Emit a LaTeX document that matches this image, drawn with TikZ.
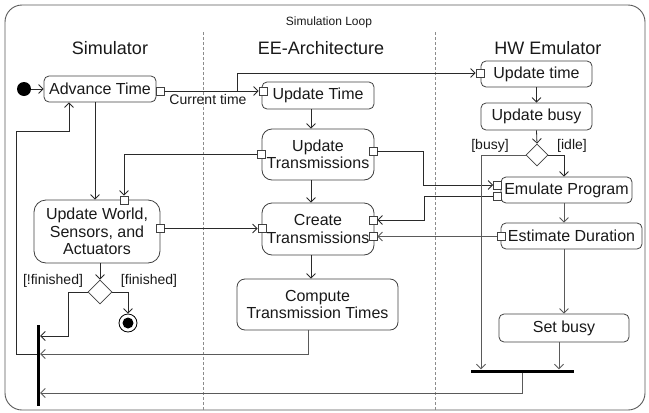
\documentclass[tikz,border=0pt]{standalone}
\usepackage{fontspec}
\setmainfont{Liberation Sans}
\usetikzlibrary{arrows.meta,shapes.geometric,calc}
\newcommand\fsz[2]{\fontsize{#1}{#2}\selectfont}
\definecolor{boxc}{HTML}{404040}
\definecolor{linec}{HTML}{2A2A2A}
\definecolor{grayl}{HTML}{5A5A5A}
\begin{document}
\begin{tikzpicture}[x=1pt,y=-1pt,
  act/.style={draw=boxc, line width=0.8pt, rounded corners=5pt, align=center, inner sep=1pt, text=black!90, font=\fsz{16}{17.5}},
  bigact/.style={act, rounded corners=10pt},
  pinbox/.style={draw=boxc, line width=0.8pt, fill=white, minimum size=8pt, inner sep=0pt},
  ln/.style={draw=linec, line width=0.8pt},
  lng/.style={draw=grayl, line width=0.8pt},
  arr/.style={ln, -{Straight Barb[length=4.5pt,width=9pt]}},
  arrg/.style={lng, -{Straight Barb[length=4.5pt,width=9pt]}},
  head/.style={font=\fsz{18}{20}, text=black!90},
  lbl/.style={font=\fsz{14}{16}, text=black!90, inner sep=0pt},
  dec/.style={diamond, aspect=1, draw=boxc, line width=0.8pt, fill=white, minimum width=24pt, minimum height=24pt, inner sep=0pt},
  barn/.style={fill=black, inner sep=0pt},
  lane/.style={draw=black!45, line width=0.8pt, dash pattern=on 3pt off 2pt}
]
\useasboundingbox (0,0) rectangle (649,413);
% frame and lanes
\draw[draw=black!65, line width=0.9pt, rounded corners=17pt] (5,5) rectangle (645,410);
\draw[lane] (203,32) -- (203,410);
\draw[lane] (435,32) -- (435,410);
\node[font=\fsz{12}{14}, text=black!90] (loop) at (329,22) {Simulation Loop};
\node[head] (hsim) at (110,48) {Simulator};
\node[head] (hee) at (321,48) {EE-Architecture};
\node[head] (hhw) at (548,48) {HW Emulator};

% Simulator lane
\node[circle, fill=black, minimum size=14pt, inner sep=0pt] (init) at (24,89) {};
\node[act, minimum width=112pt, minimum height=26pt] (adv) at (100,89) {Advance Time};
\node[bigact, rounded corners=12pt, minimum width=126pt, minimum height=63pt] (upW) at (97,231.5) {Update World,\\Sensors, and\\Actuators};
\node[dec] (dS) at (100,292) {};
\node[circle, draw=black, line width=0.8pt, minimum size=18pt, inner sep=0pt] (fin) at (128,323) {};
\node[circle, fill=black, minimum size=11pt, inner sep=0pt] (finIn) at (fin) {};
\node[barn, minimum width=3pt, minimum height=81pt] (fork) at (38.5,365.5) {};
\node[lbl] (lnf) at (53,281) {[!finished]};
\node[lbl] (lf) at (149,281) {[finished]};

% EE lane
\node[act, minimum width=112pt, minimum height=27pt] (eeUT) at (318,95.5) {Update Time};
\node[bigact, minimum width=112pt, minimum height=51pt] (eeUTr) at (318,154.5) {Update\\Transmissions};
\node[bigact, minimum width=112pt, minimum height=52pt] (eeCT) at (318,229) {Create\\Transmissions};
\node[bigact, rounded corners=8pt, minimum width=161pt, minimum height=51pt] (eeCTT) at (317.5,304.5) {Compute\\Transmission Times};

% HW lane
\node[act, minimum width=111pt, minimum height=26pt] (hwUT) at (536.5,74) {Update time};
\node[act, minimum width=111pt, minimum height=27pt] (hwUB) at (536.5,116.5) {Update busy};
\node[dec, minimum width=22pt, minimum height=22pt] (dH) at (537,155) {};
\node[lbl] (lbusy) at (490,146) {[busy]};
\node[lbl] (lidle) at (572,146) {[idle]};
\node[act, minimum width=131pt, minimum height=26pt] (hwEP) at (566.5,190) {Emulate Program};
\node[act, minimum width=141pt, minimum height=26pt] (hwED) at (571.5,236) {Estimate Duration};
\node[act, minimum width=130pt, minimum height=28pt] (hwSB) at (564,328) {Set busy};
\node[barn, minimum width=103pt, minimum height=3pt] (hwbar) at (522.5,371) {};

% pins
\node[pinbox] (pAdv) at (160,91) {};
\node[pinbox] (pEEUT) at (263,91) {};
\node[pinbox] (pUTrL) at (261,154) {};
\node[pinbox] (pUTrR) at (373,151.5) {};
\node[pinbox] (pCTL) at (262,228.5) {};
\node[pinbox] (pCTR1) at (373,220) {};
\node[pinbox] (pCTR2) at (373,236.5) {};
\node[pinbox] (pUWT) at (124,200) {};
\node[pinbox] (pUWR) at (160,228.5) {};
\node[pinbox] (pHWUT) at (480,73) {};
\node[pinbox] (pEP1) at (497.5,185) {};
\node[pinbox] (pEP2) at (497.5,196) {};
\node[pinbox] (pED) at (501,236.5) {};

% connectors: simulator
\draw[arr] (init) -- (adv);
\draw[arr] (pAdv.east) -- (pEEUT.west);
\node[lbl] (ctime) at (208,99) {Current time};
\coordinate (br) at ($(pEEUT.west)+(-21,0)$);
\draw[arr] (br) |- (pHWUT.west);
\coordinate (c1) at ($(adv.south)+(-5,0)$);
\draw[arr] (c1) -- (c1 |- upW.north);
\draw[arr] (pUTrL.west) -| (pUWT.north);
\draw[arr] (pUWR.east) -- (pCTL.west);
\draw[arr] (dS.north |- upW.south) -- (dS.north);
\draw[arr] (dS.west) -- ++(-19,0) |- ($(fork.east)+(0,-29.5)$);
\draw[arr] (dS.east) -| (fin.north);
\coordinate (k1) at ($(eeCTT.south)+(-9.5,0)$);
\draw[arrg] (k1) |- ($(fork.east)+(0,-11.5)$);
\coordinate (k2) at ($(adv.south)+(-31,0)$);
\draw[arr] ($(fork.west)+(0,-11.5)$) -- ++(-20,0) |- ($(k2)+(0,29)$) -- (k2);
\draw[arrg] (hwbar.south) |- ($(fork.east)+(0,27.5)$);

% connectors: EE
\coordinate (e1) at ($(eeUT.south)+(-7,0)$);
\draw[arr] (e1) -- (e1 |- eeUTr.north);
\coordinate (e2) at ($(eeUTr.south)+(-7,0)$);
\draw[arr] (e2) -- (e2 |- eeCT.north);
\coordinate (e3) at ($(eeCT.south)+(-7,0)$);
\draw[arr] (e3) -- (e3 |- eeCTT.north);
\draw[arr] (pUTrR.east) -| ($(pEP1.west)+(-69.5,0)$) -- (pEP1.west);
\draw[arr] (pEP2.west) -| ($(pCTR1.east)+(47,0)$) -- (pCTR1.east);
\draw[arrg] (pED.west) -- (pCTR2.east);

% connectors: HW
\draw[arr] (hwUT.south) -- (hwUB.north);
\draw[arr] (hwUB.south) -- (dH.north);
\draw[arr] (dH.east) -| ($(hwEP.north)+(-2.5,0)$);
\draw[arrg] (dH.west) -| ($(hwbar.north)+(-41.5,0)$);
\coordinate (h1) at ($(hwEP.south)+(-2.5,0)$);
\draw[arrg] (h1) -- (h1 |- hwED.north);
\coordinate (h2) at ($(hwED.south)+(-7.5,0)$);
\draw[arrg] (h2) -- (h2 |- hwSB.north);
\coordinate (h3) at ($(hwSB.south)+(-5,0)$);
\draw[arrg] (h3) -- (h3 |- hwbar.north);
\end{tikzpicture}
\end{document}
